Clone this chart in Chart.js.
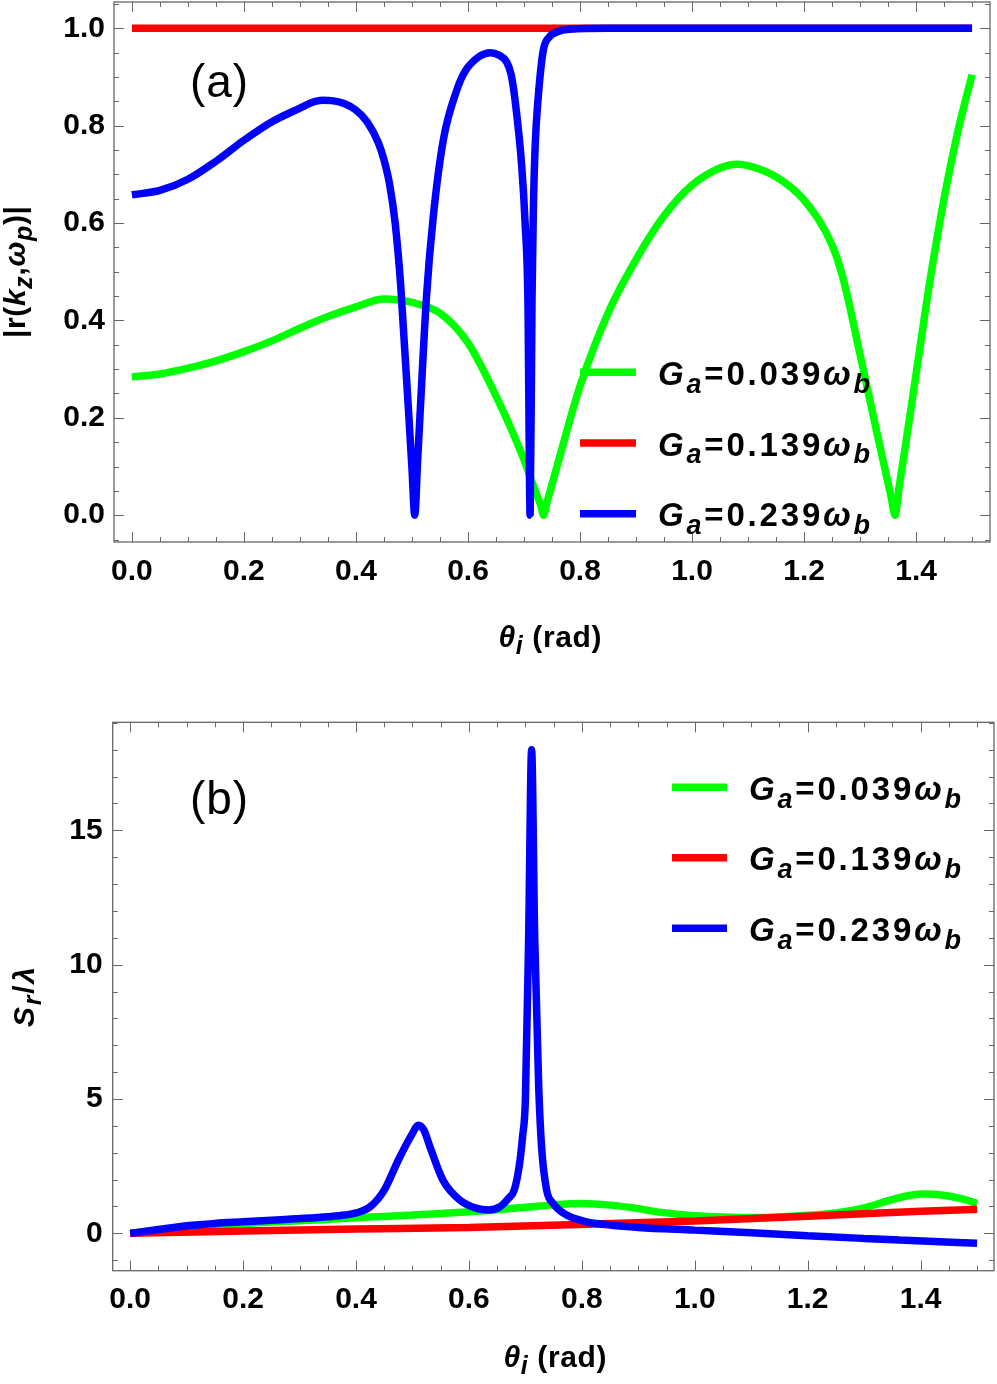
<!DOCTYPE html>
<html>
<head>
<meta charset="utf-8">
<script src="https://cdn.jsdelivr.net/npm/chart.js@4.4.1/dist/chart.umd.min.js"></script>
<style>
html, body { margin: 0; padding: 0; background: #fff; }
#wrap { position: relative; width: 997px; height: 1384px; }
canvas { position: absolute; left: 0; }
#chartA { top: 0; }
#chartB { top: 690px; }
</style>
</head>
<body>
<div id="wrap">
  <canvas id="chartA" width="997" height="690"></canvas>
  <canvas id="chartB" width="997" height="694"></canvas>
</div>
<script>
// series labels (G_a in units of omega_b)
const gaValues = ['0.039', '0.139', '0.239'];
const lineColors = ['#00ff00', '#ff0000', '#0000ff'];

// panel (a): |r(kz, wp)| vs theta_i
const aGreenTheta = [0, 0.05, 0.1, 0.15, 0.2, 0.25, 0.3, 0.35, 0.4, 0.45, 0.5, 0.55, 0.6, 0.65, 0.7, 0.72, 0.73, 0.735,
  0.74, 0.76, 0.8, 0.85, 0.9, 0.95, 1.0, 1.05, 1.08, 1.1, 1.15, 1.2, 1.25, 1.27, 1.3, 1.33, 1.355, 1.3625,
  1.37, 1.38, 1.4, 1.425, 1.45, 1.475, 1.5];
const aGreenR = [0.284, 0.290, 0.302, 0.317, 0.336, 0.358, 0.384, 0.408, 0.428, 0.444, 0.437, 0.415, 0.354, 0.245, 0.114, 0.05, 0.02, 0.0,
  0.022, 0.105, 0.265, 0.415, 0.525, 0.615, 0.678, 0.713, 0.721, 0.718, 0.695, 0.647, 0.555, 0.485, 0.33, 0.17, 0.04, 0.0,
  0.06, 0.135, 0.29, 0.483, 0.65, 0.79, 0.905];
const aRedTheta = [0, 0.5, 1.0, 1.5];
const aRedR = [1.0, 1.0, 1.0, 1.0];
const aBlueTheta = [0, 0.05, 0.1, 0.15, 0.2, 0.25, 0.3, 0.32, 0.34, 0.36, 0.38, 0.4, 0.42, 0.44, 0.45, 0.46, 0.47, 0.48, 0.5, 0.505,
  0.51, 0.515, 0.526, 0.538, 0.556, 0.58, 0.595, 0.62, 0.64, 0.655, 0.669, 0.677, 0.684, 0.696, 0.702, 0.707, 0.711,
  0.7143, 0.7166, 0.72, 0.7255, 0.7345, 0.745, 0.76, 0.782, 0.85, 1.0, 1.2, 1.5];
const aBlueR = [0.658, 0.667, 0.69, 0.727, 0.77, 0.808, 0.836, 0.847, 0.852, 0.851, 0.845, 0.832, 0.808, 0.765, 0.73, 0.68, 0.60, 0.47, 0.095, 0.0,
  0.11, 0.22, 0.45, 0.613, 0.771, 0.873, 0.912, 0.942, 0.95, 0.945, 0.931, 0.905, 0.853, 0.716, 0.60, 0.44, 0.0,
  0.44, 0.62, 0.76, 0.86, 0.955, 0.982, 0.993, 0.998, 1.0, 1.0, 1.0, 1.0];

// panel (b): S_r / lambda vs theta_i
const bGreenTheta = [0, 0.05, 0.1, 0.15, 0.2, 0.25, 0.3, 0.35, 0.4, 0.45, 0.5, 0.55, 0.6, 0.65, 0.7, 0.75, 0.78, 0.8,
  0.85, 0.9, 0.94, 1.0, 1.05, 1.1, 1.15, 1.2, 1.25, 1.3, 1.35, 1.38, 1.41, 1.44, 1.47, 1.5];
const bGreenS = [0, 0.12, 0.23, 0.31, 0.37, 0.42, 0.47, 0.52, 0.58, 0.63, 0.68, 0.74, 0.80, 0.88, 0.97, 1.06, 1.1, 1.11,
  1.05, 0.92, 0.78, 0.66, 0.61, 0.59, 0.61, 0.67, 0.76, 0.95, 1.26, 1.41, 1.46, 1.42, 1.3, 1.12];
const bRedTheta = [0, 0.2, 0.4, 0.6, 0.8, 1.0, 1.2, 1.4, 1.5];
const bRedS = [0, 0.09, 0.16, 0.22, 0.33, 0.46, 0.64, 0.82, 0.90];
const bBlueTheta = [0, 0.05, 0.1, 0.15, 0.2, 0.25, 0.3, 0.35, 0.38, 0.4, 0.425, 0.45, 0.475, 0.5, 0.51, 0.52, 0.531,
  0.554, 0.584, 0.614, 0.634, 0.655, 0.67, 0.68, 0.689, 0.695, 0.7, 0.7057, 0.711, 0.7165, 0.7235, 0.7287,
  0.7376, 0.749, 0.773, 0.8085, 0.85, 0.9, 1.0, 1.1, 1.2, 1.3, 1.363, 1.5];
const bBlueS = [0, 0.14, 0.28, 0.37, 0.43, 0.49, 0.55, 0.62, 0.68, 0.76, 0.99, 1.61, 2.73, 3.72, 4.02, 3.85, 3.22,
  1.98, 1.24, 0.93, 0.87, 0.99, 1.3, 1.6, 2.5, 3.6, 5.0, 11.0, 18.0, 11.0, 5.5, 3.2,
  1.61, 1.12, 0.68, 0.43, 0.31, 0.22, 0.12, 0.02, -0.09, -0.19, -0.25, -0.37];

// tick labels
const thetaTicks = [0, 0.2, 0.4, 0.6, 0.8, 1.0, 1.2, 1.4];
const aYTicks = [0, 0.2, 0.4, 0.6, 0.8, 1.0];
const bYTicks = [0, 5, 10, 15];

const FONT = '"Liberation Sans", Arial, Helvetica, sans-serif';

function pts(xs, ys) {
    return xs.map((x, i) => ({x: x, y: ys[i]}));
}

function lineSet(data, color, order) {
    return {
        data: data,
        borderColor: color,
        backgroundColor: color,
        borderWidth: 7.5,
        borderJoinStyle: 'bevel',
        borderCapStyle: 'butt',
        pointRadius: 0,
        cubicInterpolationMode: 'monotone',
        fill: false,
        order: order
    };
}

// rich text: parts are [text, kind]; kind b = bold, i = bold italic, si = subscript bold italic, n = normal
function partFont(kind, size) {
    if (kind === 'n') return `normal 400 ${size}px ${FONT}`;
    if (kind === 'b') return `normal 700 ${size}px ${FONT}`;
    if (kind === 'i') return `italic 700 ${size}px ${FONT}`;
    return `italic 700 ${Math.round(size * 0.82)}px ${FONT}`;
}

function drawRich(ctx, parts, x, y, size, target, align) {
    let natural = 0, n = 0;
    parts.forEach(p => {
        ctx.font = partFont(p[1], size);
        natural += ctx.measureText(p[0]).width;
        n += p[0].length;
    });
    const extra = target ? (target - natural) / Math.max(n - 1, 1) : 0;
    const total = natural + extra * (n - 1);
    let cx = align === 'center' ? x - total / 2 : x;
    ctx.textBaseline = 'alphabetic';
    ctx.textAlign = 'left';
    ctx.fillStyle = '#000';
    parts.forEach(p => {
        ctx.font = partFont(p[1], size);
        const dy = p[1] === 'si' ? size * 0.24 : 0;
        for (const ch of p[0]) {
            ctx.fillText(ch, cx, y + dy);
            cx += ctx.measureText(ch).width + extra;
        }
    });
}

// inward ticks on all four sides plus the frame
function frameTicks(xMinorStep, yMinorStep) {
    return {
        id: 'frameTicks',
        afterDatasetsDraw(chart) {
            const {ctx, chartArea: a, scales: {x, y}} = chart;
            ctx.save();
            ctx.strokeStyle = '#666';
            ctx.lineWidth = 1.3;
            ctx.strokeRect(a.left, a.top, a.right - a.left, a.bottom - a.top);
            ctx.lineWidth = 1;
            const majX = x.ticks.map(t => t.value);
            const majY = y.ticks.map(t => t.value);
            const isMajor = (v, list) => list.some(m => Math.abs(m - v) < 1e-6);
            for (let k = Math.ceil(x.min / xMinorStep); k * xMinorStep <= x.max + 1e-9; k++) {
                const v = k * xMinorStep;
                const len = isMajor(v, majX) ? 10 : 5;
                const px = Math.round(x.getPixelForValue(v)) + 0.5;
                ctx.beginPath();
                ctx.moveTo(px, a.bottom); ctx.lineTo(px, a.bottom - len);
                ctx.moveTo(px, a.top); ctx.lineTo(px, a.top + len);
                ctx.stroke();
            }
            for (let k = Math.ceil(y.min / yMinorStep); k * yMinorStep <= y.max + 1e-9; k++) {
                const v = k * yMinorStep;
                const len = isMajor(v, majY) ? 10 : 5;
                const py = Math.round(y.getPixelForValue(v)) + 0.5;
                ctx.beginPath();
                ctx.moveTo(a.left, py); ctx.lineTo(a.left + len, py);
                ctx.moveTo(a.right, py); ctx.lineTo(a.right - len, py);
                ctx.stroke();
            }
            ctx.restore();
        }
    };
}

// panel label, axis titles and legend
function overlay(p) {
    return {
        id: 'overlay',
        afterDraw(chart) {
            const ctx = chart.ctx;
            ctx.save();
            drawRich(ctx, [[p.tag, 'n']], p.tagPos[0], p.tagPos[1], 46, 58, 'center');
            drawRich(ctx, [['θ', 'i'], ['i', 'si'], [' (rad)', 'b']], p.xTitle[0], p.xTitle[1], 30, 103, 'center');
            ctx.save();
            ctx.translate(p.yTitle[0], p.yTitle[1]);
            ctx.rotate(-Math.PI / 2);
            drawRich(ctx, p.yParts, 0, 0, 30, p.yTitle[2], 'center');
            ctx.restore();
            gaValues.forEach((g, i) => {
                const ly = p.legend.y0 + i * p.legend.dy;
                ctx.strokeStyle = lineColors[i];
                ctx.lineWidth = 7.5;
                ctx.lineCap = 'butt';
                ctx.beginPath();
                ctx.moveTo(p.legend.x0, ly);
                ctx.lineTo(p.legend.x1, ly);
                ctx.stroke();
                drawRich(ctx, [['G', 'i'], ['a', 'si'], ['=' + g, 'b'], ['ω', 'i'], ['b', 'si']],
                    p.legend.tx, ly + 12.5, 33, 212, 'left');
            });
            ctx.restore();
        }
    };
}

function makePanel(id, p) {
    const tickFont = {family: FONT, size: 30, weight: 'bold'};
    return new Chart(document.getElementById(id), {
        type: 'line',
        data: {
            datasets: [
                lineSet(p.blue, lineColors[2], 1),
                lineSet(p.red, lineColors[1], 2),
                lineSet(p.green, lineColors[0], 3)
            ]
        },
        options: {
            responsive: false,
            animation: false,
            devicePixelRatio: 1,
            layout: {padding: p.pad, autoPadding: false},
            plugins: {legend: {display: false}, tooltip: {enabled: false}},
            scales: {
                x: {
                    type: 'linear', min: p.xMin, max: p.xMax,
                    grid: {display: false, drawTicks: false},
                    border: {display: false},
                    afterBuildTicks: s => { s.ticks = thetaTicks.map(v => ({value: v})); },
                    afterFit: s => { s.height = p.xAxisH; s.paddingLeft = 0; s.paddingRight = 0; },
                    ticks: {padding: p.xPad, color: '#000', font: tickFont, maxRotation: 0, autoSkip: false,
                        callback: v => v.toFixed(1)}
                },
                y: {
                    type: 'linear', min: p.yMin, max: p.yMax,
                    grid: {display: false, drawTicks: false},
                    border: {display: false},
                    afterBuildTicks: s => { s.ticks = p.yTicks.map(v => ({value: v})); },
                    afterFit: s => { s.width = p.yAxisW; s.paddingTop = 0; s.paddingBottom = 0; },
                    ticks: {padding: p.yPad, color: '#000', font: tickFont, autoSkip: false,
                        callback: p.yFmt}
                }
            }
        },
        plugins: [frameTicks(0.05, p.yMinor), overlay(p)]
    });
}

makePanel('chartA', {
    green: pts(aGreenTheta, aGreenR), red: pts(aRedTheta, aRedR), blue: pts(aBlueTheta, aBlueR),
    pad: {top: 2, right: 7, left: 0, bottom: 0}, xAxisH: 148, yAxisW: 114,
    xMin: -0.032, xMax: 1.532, yMin: -0.055, yMax: 1.054,
    yTicks: aYTicks, yMinor: 0.05, yFmt: v => v.toFixed(1), xPad: 12, yPad: 9,
    tag: '(a)', tagPos: [219, 97],
    xTitle: [550, 647],
    yTitle: [25, 272, 132],
    yParts: [['|r(', 'b'], ['k', 'i'], ['z', 'si'], [',', 'b'], ['ω', 'i'], ['p', 'si'], [')|', 'b']],
    legend: {x0: 580, x1: 636, tx: 658, y0: 372.3, dy: 70.7}
});

makePanel('chartB', {
    green: pts(bGreenTheta, bGreenS), red: pts(bRedTheta, bRedS), blue: pts(bBlueTheta, bBlueS),
    pad: {top: 32.3, right: 3, left: 0, bottom: 0}, xAxisH: 113.3, yAxisW: 112.7,
    xMin: -0.031, xMax: 1.530, yMin: -1.39, yMax: 19.02,
    yTicks: bYTicks, yMinor: 1, yFmt: v => String(v), xPad: 11, yPad: 10,
    tag: '(b)', tagPos: [219, 124],
    xTitle: [555, 677],
    yTitle: [33.5, 307, 60],
    yParts: [['S', 'i'], ['r', 'si'], ['/', 'b'], ['λ', 'i']],
    legend: {x0: 672, x1: 727, tx: 749, y0: 97.3, dy: 70.5}
});
</script>
</body>
</html>
